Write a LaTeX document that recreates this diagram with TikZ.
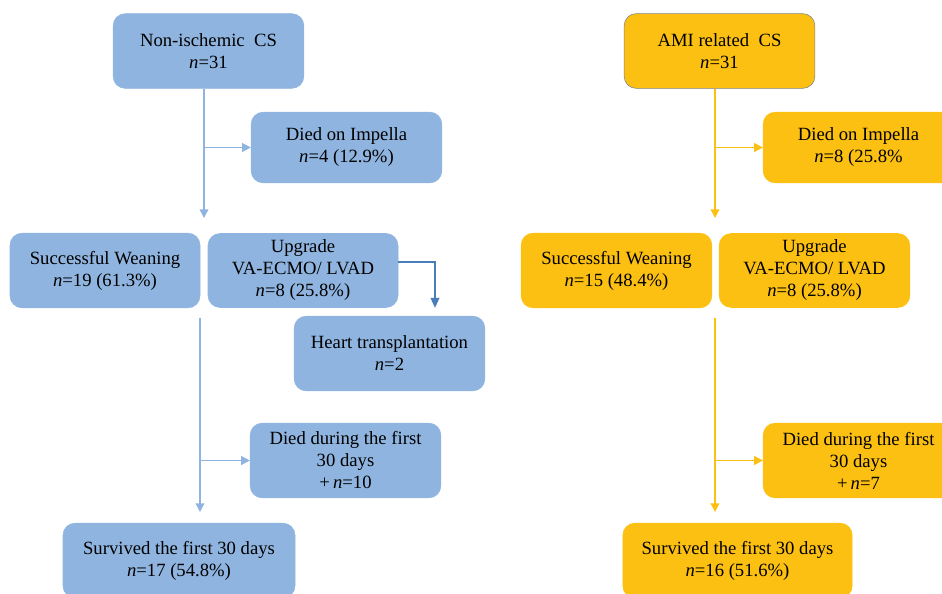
\documentclass[tikz,border=0pt]{standalone}
\usepackage{fontspec}
\setmainfont{Liberation Serif}
\usepackage{tikz}
\usetikzlibrary{arrows.meta,positioning}

\definecolor{boxblue}{HTML}{8FB4DF}
\definecolor{boxamber}{HTML}{FCC012}
\definecolor{lineblue}{HTML}{8FB4DF}
\definecolor{lineamber}{HTML}{FCC012}
\definecolor{deepblue}{HTML}{4A7EBB}
\newcommand{\nn}{\textit{n}}

\tikzset{
  flowbox/.style={rounded corners=9pt,align=center,inner sep=2pt,
    font=\fontsize{14}{16.5}\selectfont,minimum width=143pt,minimum height=56pt},
  bluebox/.style={flowbox,fill=boxblue,draw=boxblue},
  amberbox/.style={flowbox,fill=boxamber,draw=boxamber},
  bluearr/.style={draw=lineblue,line width=1.1pt,-{Triangle[width=6.5pt,length=6.5pt]}},
  amberarr/.style={draw=lineamber,line width=1.1pt,-{Triangle[width=6.5pt,length=6.5pt]}},
  deeparr/.style={draw=deepblue,line width=1.1pt,-{Triangle[width=6.5pt,length=7.5pt]}}
}

\begin{document}
\begin{tikzpicture}[x=0.75pt,y=-0.75pt]
\useasboundingbox (0,0) rectangle (942,593);

% left column
\node (nonisch) at (208.5,51) [bluebox] {Non-ischemic\ \ CS\\\nn=31};
\node (ldiedimp) at (346.5,147.5) [bluebox,minimum height=53pt] {Died on Impella\\\nn=4 (12.9\%)};
\node (lwean) at (105,270.5) [bluebox,minimum width=142.5pt] {Successful Weaning\\\nn=19 (61.3\%)};
\node (lupgr) at (303,270.5) [bluebox,minimum width=142.5pt,minimum height=55.5pt] {Upgrade\\VA-ECMO/ LVAD\\\nn=8 (25.8\%)};
\node (htx) at (389.5,353.5) [bluebox] {Heart transplantation\\\nn=2};
\node (ldied30) at (345.5,460.5) [bluebox] {Died during the first\\30 days\\+\,\nn=10};
\node (lsurv) at (179,560.5) [bluebox,minimum width=174pt] {Survived the first 30 days\\\nn=17 (54.8\%)};

% right column
\node (amirel) at (719.5,51) [amberbox,draw=gray] {AMI related\ \ CS\\\nn=31};
\node (rdiedimp) at (858.5,147.5) [amberbox,minimum height=53pt] {Died on Impella\\\nn=8 (25.8\%};
\node (rwean) at (616.5,270.5) [amberbox] {Successful Weaning\\\nn=15 (48.4\%)};
\node (rupgr) at (814.5,270.5) [amberbox,minimum height=55.5pt] {Upgrade\\VA-ECMO/ LVAD\\\nn=8 (25.8\%)};
\node (rdied30) at (858.5,460.5) [amberbox] {Died during the first\\30 days\\+\,\nn=7};
\node (rsurv) at (737.5,560.5) [amberbox,minimum width=172pt] {Survived the first 30 days\\\nn=16 (51.6\%)};

% left connectors
\coordinate (lstop1) at (204,218);
\coordinate (lstart2) at (200,318);
\coordinate (lstop2) at (200,512);
\coordinate (hturn) at (435,262);
\draw[bluearr] (nonisch.south -| lstop1) -- (lstop1);
\draw[bluearr] (lstop1 |- ldiedimp.west) -- (ldiedimp.west);
\draw[bluearr] (lstart2) -- (lstop2);
\draw[bluearr] (lstart2 |- ldied30.west) -- (ldied30.west);
\draw[deeparr,shorten >=6pt] (lupgr.east |- hturn) -- (hturn) -- (hturn |- htx.north);

% right connectors
\coordinate (rstop1) at (715,218);
\coordinate (rstart2) at (715,318);
\coordinate (rstop2) at (715,512);
\draw[amberarr] (amirel.south -| rstop1) -- (rstop1);
\draw[amberarr] (rstop1 |- rdiedimp.west) -- (rdiedimp.west);
\draw[amberarr] (rstart2) -- (rstop2);
\draw[amberarr] (rstart2 |- rdied30.west) -- (rdied30.west);
\end{tikzpicture}
\end{document}
